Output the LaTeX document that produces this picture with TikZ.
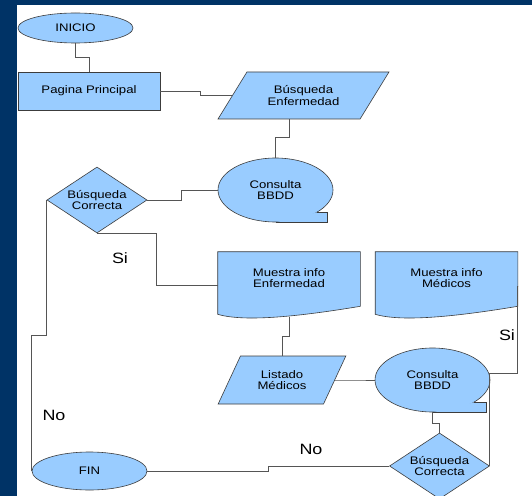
\documentclass[tikz,border=0pt]{standalone}
\usepackage{fontspec}
\setmainfont{Liberation Sans}[FakeStretch=1.2]
\usetikzlibrary{shapes.geometric}
\usetikzlibrary{calc}
\usetikzlibrary{backgrounds}

\definecolor{fondo}{HTML}{003366}
\definecolor{relleno}{HTML}{99CCFF}
\definecolor{borde}{HTML}{3C3C3C}
\definecolor{linea}{HTML}{555555}

\begin{document}
\begin{tikzpicture}[x=1bp,y=-1bp]
        % Define styles for shapes
        \tikzset{
            base/.style={draw=borde, fill=relleno, line width=0.6pt, font=\fontsize{11}{11.5}\selectfont, align=center, inner sep=0pt},
            terminal/.style={base, ellipse, minimum width=115bp, minimum height=30bp},
            proceso/.style={base, rectangle, minimum width=142bp, minimum height=38bp},
            datos/.style={base, trapezium, trapezium stretches=true, trapezium left angle=47, trapezium right angle=133, minimum width=171bp, minimum height=47bp},
            listado/.style={base, trapezium, trapezium stretches=true, trapezium left angle=56, trapezium right angle=124, minimum width=128bp, minimum height=48bp},
            consulta/.style={base, ellipse, minimum width=115bp, minimum height=64bp},
            decision/.style={base, diamond, aspect=1.5, minimum width=100bp, minimum height=66bp},
            documento/.style={base, draw=none, fill=none, rectangle, minimum width=142bp, minimum height=52bp},
            forma/.style={draw=borde, fill=relleno, line width=0.6pt},
            conector/.style={draw=linea, line width=0.7pt},
            etiqueta/.style={font=\fontsize{15}{15}\selectfont, inner sep=0pt}
        }
        \useasboundingbox (0,0) rectangle (532,496);
        \begin{scope}[on background layer]
            \fill[fondo] (0,0) rectangle (532,496);
            \fill[white] (17,5) rectangle (532,496);
        \end{scope}

        % Draw shapes
        \node[terminal] (inicio) at (75.5,28) {INICIO};
        \node[proceso] (pagina) at (89,91) {Pagina Principal};
        \node[datos] (busqueda) at (303.5,95.5) {Búsqueda\\Enfermedad};
        \node[consulta] (consulta1) at (275.5,190) {Consulta\\BBDD};
        \fill[relleno] (consulta1.south) -- ++(52,0) -- ++(0,-10) -- (consulta1.-28) -- cycle;
        \draw[borde, line width=0.6pt] (consulta1.south) -- ++(52,0) |- (consulta1.-28);
        \node[decision] (correcta1) at (97,200) {Búsqueda\\Correcta};
        \node[documento] (muestraEnf) at (289,278) {Muestra info\\Enfermedad};
        \node[documento] (muestraMed) at (446.5,278) {Muestra info\\Médicos};
        \begin{scope}[on background layer]
            \filldraw[forma] (muestraEnf.north west) -- (muestraEnf.north east) -- ($(muestraEnf.south east)+(0,2)$)
                .. controls +(-60,10) and +(27,8) .. ($(muestraEnf.south west)+(0,10)$) -- cycle;
            \filldraw[forma] (muestraMed.north west) -- (muestraMed.north east) -- ($(muestraMed.south east)+(0,2)$)
                .. controls +(-60,10) and +(27,8) .. ($(muestraMed.south west)+(0,10)$) -- cycle;
        \end{scope}
        \node[listado] (listado) at (282,380) {Listado\\Médicos};
        \node[consulta] (consulta2) at (432.5,380) {Consulta\\BBDD};
        \fill[relleno] (consulta2.south) -- ++(54,0) -- ++(0,-10) -- (consulta2.-28) -- cycle;
        \draw[borde, line width=0.6pt] (consulta2.south) -- ++(54,0) |- (consulta2.-28);
        \node[decision] (correcta2) at (439.5,466) {Búsqueda\\Correcta};
        \node[terminal, minimum height=38bp] (fin) at (89.5,471) {FIN};

        % Draw connectors
        \draw[conector] (inicio.south) -- ++(0,14) -| (pagina.north);
        \draw[conector] (pagina.east) -- ++(40,0) |- (busqueda);
        \draw[conector] (busqueda.bottom side) -- ++(0,18) -| (consulta1.north);
        \draw[conector] (consulta1.west) -- ++(-36,0) |- (correcta1.east);
        \draw[conector] (correcta1.south) -- ++(59,0) |- ($(muestraEnf.west)+(0,7)$);
        \draw[conector] (correcta1.west) -- ++(0,135) -| (fin.west);
        \draw[conector] ($(muestraEnf.south)+(0,13)$) -- ++(0,19) -| (listado.north);
        \draw[conector] (listado.right side) -- ++(22,0) |- (consulta2.west);
        \draw[conector] (consulta2.south) -- ++(0,11) -| (correcta2.north);
        \draw[conector] (correcta2.east) -- ++(0,-93) -- ++(28,0) |- ($(muestraMed.east)+(0,8)$);
        \draw[conector] (correcta2.west) -- ++(-121,0) |- (fin.east);

        % Labels
        \node[etiqueta] (si1) at (120,258) {Si};
        \node[etiqueta] (no1) at (54,415) {No};
        \node[etiqueta] (no2) at (311,449) {No};
        \node[etiqueta] (si2) at (507,335) {Si};
    \end{tikzpicture}
\end{document}
